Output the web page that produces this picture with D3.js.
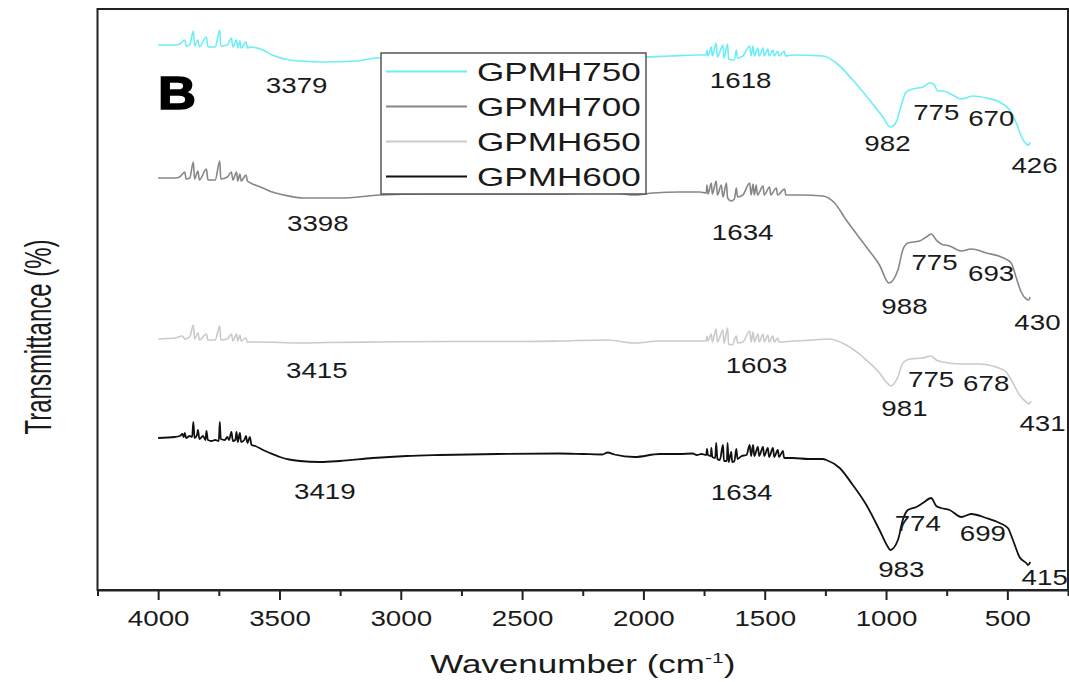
<!DOCTYPE html>
<html>
<head>
<meta charset="utf-8">
<script src="https://cdn.jsdelivr.net/npm/d3@7"></script>
<style>
  body { margin: 0; background: #fff; }
  svg { display: block; font-family: "Liberation Sans", Arial, sans-serif; }
</style>
</head>
<body>
<div id="chartContainer"></div>
<script>
// FTIR spectra, [wavenumber (cm-1), transmittance (a.u., curves offset)]
const gpmh750 = [
  [4000, 54.5], [3930, 54.5], [3911, 54.6], [3890, 55.0], [3885, 54.4], [3870, 54.5],
  [3855, 55.9], [3850, 54.4], [3836, 55.0], [3830, 54.3], [3801, 55.3], [3795, 54.3],
  [3765, 54.3], [3746, 56.0], [3742, 54.4], [3715, 54.5], [3698, 55.2], [3692, 54.3],
  [3677, 55.0], [3672, 54.2], [3663, 54.9], [3658, 54.2], [3638, 54.8], [3632, 54.2],
  [3622, 54.3], [3568, 54.0], [3530, 53.5], [3457, 53.0], [3379, 52.85], [3320, 52.8],
  [3183, 52.9], [3100, 53.2], [2800, 53.3], [2500, 53.3], [2350, 53.6], [2345, 53.3],
  [2150, 53.6], [2140, 53.3], [2000, 53.3], [1890, 53.4], [1780, 53.5], [1741, 53.5],
  [1738, 54.0], [1734, 53.4], [1720, 54.3], [1716, 53.4], [1700, 54.7], [1695, 53.3],
  [1672, 54.5], [1668, 53.2], [1653, 54.6], [1649, 53.1], [1625, 53.0], [1617, 54.0],
  [1612, 53.2], [1590, 53.4], [1562, 54.4], [1556, 53.4], [1548, 54.4], [1543, 53.4],
  [1528, 54.2], [1523, 53.4], [1507, 54.2], [1502, 53.4], [1487, 54.1], [1482, 53.4],
  [1466, 54.0], [1461, 53.4], [1446, 53.9], [1441, 53.4], [1420, 53.9], [1415, 53.4],
  [1384, 53.5], [1260, 53.4], [1205, 52.7], [1137, 51.0], [1068, 49.0], [1013, 47.3],
  [982, 46.3], [958, 46.8], [937, 48.5], [917, 49.8], [890, 50.1], [848, 50.3],
  [820, 50.7], [804, 50.6], [786, 49.9], [766, 49.9], [725, 49.5], [690, 49.1],
  [642, 49.4], [587, 49.2], [532, 48.8], [491, 48.0], [463, 46.7], [443, 45.4],
  [422, 44.6], [412, 44.5], [406, 44.8]
];

const gpmh700 = [
  [4000, 41.2], [3930, 41.2], [3911, 41.3], [3890, 41.8], [3885, 41.1], [3870, 41.2],
  [3855, 42.8], [3850, 41.1], [3836, 41.9], [3830, 41.0], [3801, 42.1], [3795, 41.0],
  [3765, 41.0], [3746, 42.9], [3742, 41.1], [3715, 41.3], [3698, 41.8], [3692, 41.0],
  [3677, 41.8], [3672, 40.9], [3663, 41.6], [3658, 40.9], [3638, 41.5], [3632, 40.9],
  [3600, 40.5], [3568, 40.2], [3530, 39.8], [3482, 39.5], [3398, 39.2], [3250, 39.2],
  [3086, 39.5], [2900, 39.6], [2600, 39.6], [2345, 39.6], [2150, 39.8], [2036, 39.5],
  [1961, 39.7], [1850, 39.8], [1768, 39.8], [1741, 39.7], [1738, 40.5], [1734, 39.6],
  [1720, 40.7], [1716, 39.6], [1700, 40.9], [1695, 39.5], [1679, 40.5], [1672, 39.3],
  [1658, 40.7], [1653, 39.2], [1638, 38.9], [1625, 39.1], [1617, 40.2], [1612, 39.3],
  [1590, 39.5], [1562, 40.7], [1556, 39.5], [1548, 40.6], [1543, 39.5], [1535, 40.5],
  [1530, 39.5], [1507, 40.4], [1502, 39.5], [1480, 40.3], [1475, 39.5], [1452, 40.2],
  [1447, 39.5], [1418, 40.1], [1413, 39.5], [1350, 39.5], [1260, 39.4], [1212, 38.7],
  [1164, 37.0], [1081, 34.3], [1027, 32.5], [988, 30.7], [951, 32.0], [931, 34.0],
  [910, 34.7], [862, 34.9], [834, 35.3], [814, 35.6], [793, 35.0], [773, 34.6],
  [738, 34.4], [690, 33.9], [649, 34.1], [587, 33.7], [525, 33.3], [484, 32.7],
  [463, 31.2], [443, 29.8], [422, 29.1], [412, 29.0], [406, 29.3]
];

const gpmh650 = [
  [4000, 25.1], [3930, 25.2], [3900, 25.4], [3890, 25.1], [3870, 25.3], [3855, 26.5],
  [3850, 25.1], [3836, 25.7], [3830, 25.0], [3801, 25.6], [3795, 25.0], [3765, 25.0],
  [3746, 26.4], [3742, 25.0], [3715, 25.1], [3698, 25.6], [3692, 24.9], [3677, 25.6],
  [3672, 24.9], [3663, 25.5], [3658, 24.9], [3638, 25.2], [3632, 24.8], [3600, 24.8],
  [3500, 24.75], [3415, 24.7], [3300, 24.75], [3100, 24.8], [2800, 24.85], [2500, 24.85],
  [2345, 24.9], [2150, 25.0], [2036, 24.7], [1933, 24.9], [1797, 24.9], [1741, 24.9],
  [1738, 25.4], [1734, 24.9], [1720, 25.6], [1716, 24.8], [1700, 26.1], [1695, 24.8],
  [1672, 26.0], [1668, 24.7], [1653, 26.2], [1649, 24.6], [1634, 24.5], [1617, 25.4],
  [1612, 24.7], [1590, 24.8], [1562, 25.9], [1556, 24.8], [1548, 25.8], [1543, 24.8],
  [1528, 25.6], [1523, 24.8], [1507, 25.6], [1502, 24.8], [1487, 25.5], [1482, 24.8],
  [1466, 25.4], [1461, 24.8], [1446, 25.2], [1441, 24.8], [1384, 24.9], [1300, 25.0],
  [1233, 25.1], [1164, 24.5], [1095, 23.3], [1027, 21.7], [999, 20.8], [981, 20.4],
  [951, 21.3], [931, 22.7], [903, 23.1], [848, 23.2], [814, 23.4], [793, 23.0],
  [766, 22.8], [690, 22.6], [615, 22.6], [546, 22.3], [505, 21.8], [477, 20.7],
  [450, 19.5], [422, 18.8], [410, 18.6], [403, 18.9]
];

const gpmh600 = [
  [4000, 15.2], [3930, 15.3], [3911, 15.4], [3900, 15.6], [3895, 15.3], [3890, 15.7],
  [3885, 15.2], [3870, 15.4], [3860, 15.3], [3855, 16.8], [3850, 15.2], [3840, 15.5],
  [3836, 16.0], [3830, 15.1], [3815, 15.4], [3805, 15.0], [3801, 15.9], [3795, 15.0],
  [3780, 14.9], [3765, 15.0], [3750, 14.9], [3746, 16.8], [3742, 15.1], [3725, 15.0],
  [3715, 15.3], [3708, 15.0], [3698, 15.8], [3692, 14.9], [3682, 15.0], [3677, 15.8],
  [3672, 14.8], [3663, 15.7], [3658, 14.8], [3645, 15.0], [3638, 15.4], [3632, 14.7],
  [3622, 15.3], [3615, 14.5], [3600, 14.4], [3568, 14.0], [3540, 13.7], [3498, 13.3],
  [3460, 13.05], [3416, 12.9], [3333, 12.8], [3251, 12.9], [3115, 13.2], [2977, 13.4],
  [2839, 13.5], [2600, 13.6], [2345, 13.65], [2250, 13.6], [2170, 13.55], [2147, 13.75],
  [2120, 13.55], [2036, 13.3], [1933, 13.6], [1850, 13.6], [1797, 13.65], [1780, 13.5],
  [1760, 13.6], [1741, 13.5], [1738, 14.1], [1734, 13.5], [1722, 13.4], [1720, 14.2],
  [1716, 13.3], [1704, 13.2], [1700, 14.7], [1695, 13.1], [1685, 13.0], [1672, 14.5],
  [1668, 12.9], [1656, 12.9], [1653, 14.7], [1649, 12.8], [1638, 13.8], [1634, 12.8],
  [1625, 12.9], [1617, 14.1], [1612, 13.1], [1595, 13.4], [1575, 13.5], [1562, 14.5],
  [1556, 13.4], [1548, 14.5], [1543, 13.4], [1528, 14.3], [1523, 13.4], [1507, 14.3],
  [1502, 13.4], [1487, 14.2], [1482, 13.3], [1466, 14.2], [1461, 13.3], [1446, 14.0],
  [1441, 13.3], [1425, 13.9], [1420, 13.2], [1384, 13.2], [1320, 13.1], [1260, 13.1],
  [1246, 13.0], [1191, 12.2], [1137, 10.5], [1081, 8.5], [1027, 6.0], [992, 4.3],
  [983, 4.0], [951, 5.0], [931, 7.0], [910, 8.0], [875, 8.3], [848, 8.7],
  [814, 9.2], [793, 8.4], [773, 8.2], [738, 8.0], [690, 7.3], [649, 7.6],
  [587, 7.2], [532, 6.7], [498, 6.2], [477, 5.0], [450, 3.3], [422, 2.7],
  [415, 2.5], [405, 2.8]
];

const seriesNames = ["GPMH750", "GPMH700", "GPMH650", "GPMH600"];
const seriesData = [gpmh750, gpmh700, gpmh650, gpmh600];

// peak labels: [text, wavenumber, transmittance] in data units
const peaks750 = [["3379", 3429, 50.5], ["1618", 1599, 50.95], ["982", 994, 44.7], ["775", 793, 47.8], ["670", 566, 47.2], ["426", 388, 42.5]];
const peaks700 = [["3398", 3342, 36.7], ["1634", 1591, 35.8], ["988", 924, 28.4], ["775", 800, 32.8], ["693", 567, 31.7], ["430", 376, 26.8]];
const peaks650 = [["3415", 3346, 22.0], ["1603", 1534, 22.5], ["981", 924, 18.2], ["775", 814, 21.1], ["678", 587, 20.7], ["431", 355, 16.7]];
const peaks600 = [["3419", 3313, 9.9], ["1634", 1595, 9.8], ["983", 937, 2.07], ["774", 869, 6.67], ["699", 601, 5.67], ["415", 346, 1.33]];
const peakLabels = [peaks750, peaks700, peaks650, peaks600];

const xTicks = [4000, 3500, 3000, 2500, 2000, 1500, 1000, 500];
const xMinorTicks = [4250, 3750, 3250, 2750, 2250, 1750, 1250, 750, 250];

const colors = ["#6ceef6", "#878787", "#cacaca", "#111111"];

function drawChart() {
    const width = 1069, height = 682;
    const left = 97.5, right = 1068, top = 9, bottom = 590;

    const svg = d3.select("#chartContainer")
        .append("svg")
        .attr("width", width)
        .attr("height", height);

    const x = d3.scaleLinear().domain([4250, 250]).range([left, right]);
    const y = d3.scaleLinear().domain([0, 58.1]).range([bottom, top]);

    // spectra
    const line = d3.line()
        .x(d => x(d[0]))
        .y(d => y(d[1]))
        .curve(d3.curveMonotoneX);

    seriesData.forEach((data, i) => {
        svg.append("path")
            .datum(data)
            .attr("d", line)
            .attr("fill", "none")
            .attr("stroke", colors[i])
            .attr("stroke-width", i === 3 ? 1.8 : 1.6)
            .attr("stroke-linejoin", "round");
    });

    // peak annotations (text is stretched sideways like the original figure)
    peakLabels.forEach(list => {
        list.forEach(p => {
            svg.append("text")
                .attr("transform", `translate(${x(p[1])},${y(p[2])}) scale(1.26,1)`)
                .attr("text-anchor", "middle")
                .attr("dy", "0.36em")
                .attr("font-size", 22)
                .attr("fill", "#1a1a1a")
                .text(p[0]);
        });
    });

    // frame
    svg.append("rect")
        .attr("x", left)
        .attr("y", top)
        .attr("width", right - left)
        .attr("height", bottom - top)
        .attr("fill", "none")
        .attr("stroke", "#222")
        .attr("stroke-width", 2);

    // x axis: major + minor ticks
    const xAxis = svg.append("g")
        .attr("transform", `translate(0,${bottom})`)
        .call(d3.axisBottom(x).tickValues(xTicks).tickSize(10).tickSizeOuter(0)
            .tickPadding(10).tickFormat(d3.format("d")));
    xAxis.select(".domain").attr("stroke", "#222").attr("stroke-width", 2);
    xAxis.selectAll(".tick line").attr("stroke", "#222").attr("stroke-width", 2);
    xAxis.selectAll(".tick text")
        .attr("font-size", 22)
        .attr("font-family", "Liberation Sans, Arial, sans-serif")
        .attr("fill", "#1a1a1a")
        .attr("transform", "scale(1.26,1)");

    const xMinor = svg.append("g")
        .attr("transform", `translate(0,${bottom})`)
        .call(d3.axisBottom(x).tickValues(xMinorTicks).tickSize(6).tickSizeOuter(0).tickFormat(""));
    xMinor.select(".domain").remove();
    xMinor.selectAll(".tick line").attr("stroke", "#222").attr("stroke-width", 2);

    // axis titles
    const xTitle = svg.append("text")
        .attr("transform", `translate(${(left + right) / 2},673) scale(1.4,1)`)
        .attr("text-anchor", "middle")
        .attr("font-size", 25)
        .attr("fill", "#1a1a1a");
    xTitle.append("tspan").text("Wavenumber (cm");
    xTitle.append("tspan").attr("font-size", 15).attr("dy", -10).text("-1");
    xTitle.append("tspan").attr("dy", 10).text(")");

    svg.append("text")
        .attr("transform", "translate(51,337) rotate(-90) scale(1,1.55)")
        .attr("text-anchor", "middle")
        .attr("font-size", 24)
        .attr("fill", "#1a1a1a")
        .text("Transmittance (%)");

    // panel letter
    svg.append("text")
        .attr("transform", "translate(158,109) scale(1.12,1)")
        .attr("font-size", 47)
        .attr("font-weight", "bold")
        .attr("fill", "#000")
        .attr("stroke", "#000")
        .attr("stroke-width", 1.5)
        .text("B");

    // legend
    const legend = svg.append("g");
    legend.append("rect")
        .attr("x", 381)
        .attr("y", 53)
        .attr("width", 265)
        .attr("height", 141)
        .attr("fill", "#fff")
        .attr("stroke", "#555")
        .attr("stroke-width", 1.5);

    seriesNames.forEach((name, i) => {
        const ly = 71.5 + i * 35;
        legend.append("line")
            .attr("x1", 386).attr("x2", 467)
            .attr("y1", ly).attr("y2", ly)
            .attr("stroke", colors[i])
            .attr("stroke-width", 1.8);
        legend.append("text")
            .attr("transform", `translate(477,${ly}) scale(1.35,1)`)
            .attr("dy", "0.36em")
            .attr("font-size", 26)
            .attr("fill", "#1a1a1a")
            .text(name);
    });
}

drawChart();
</script>
</body>
</html>
